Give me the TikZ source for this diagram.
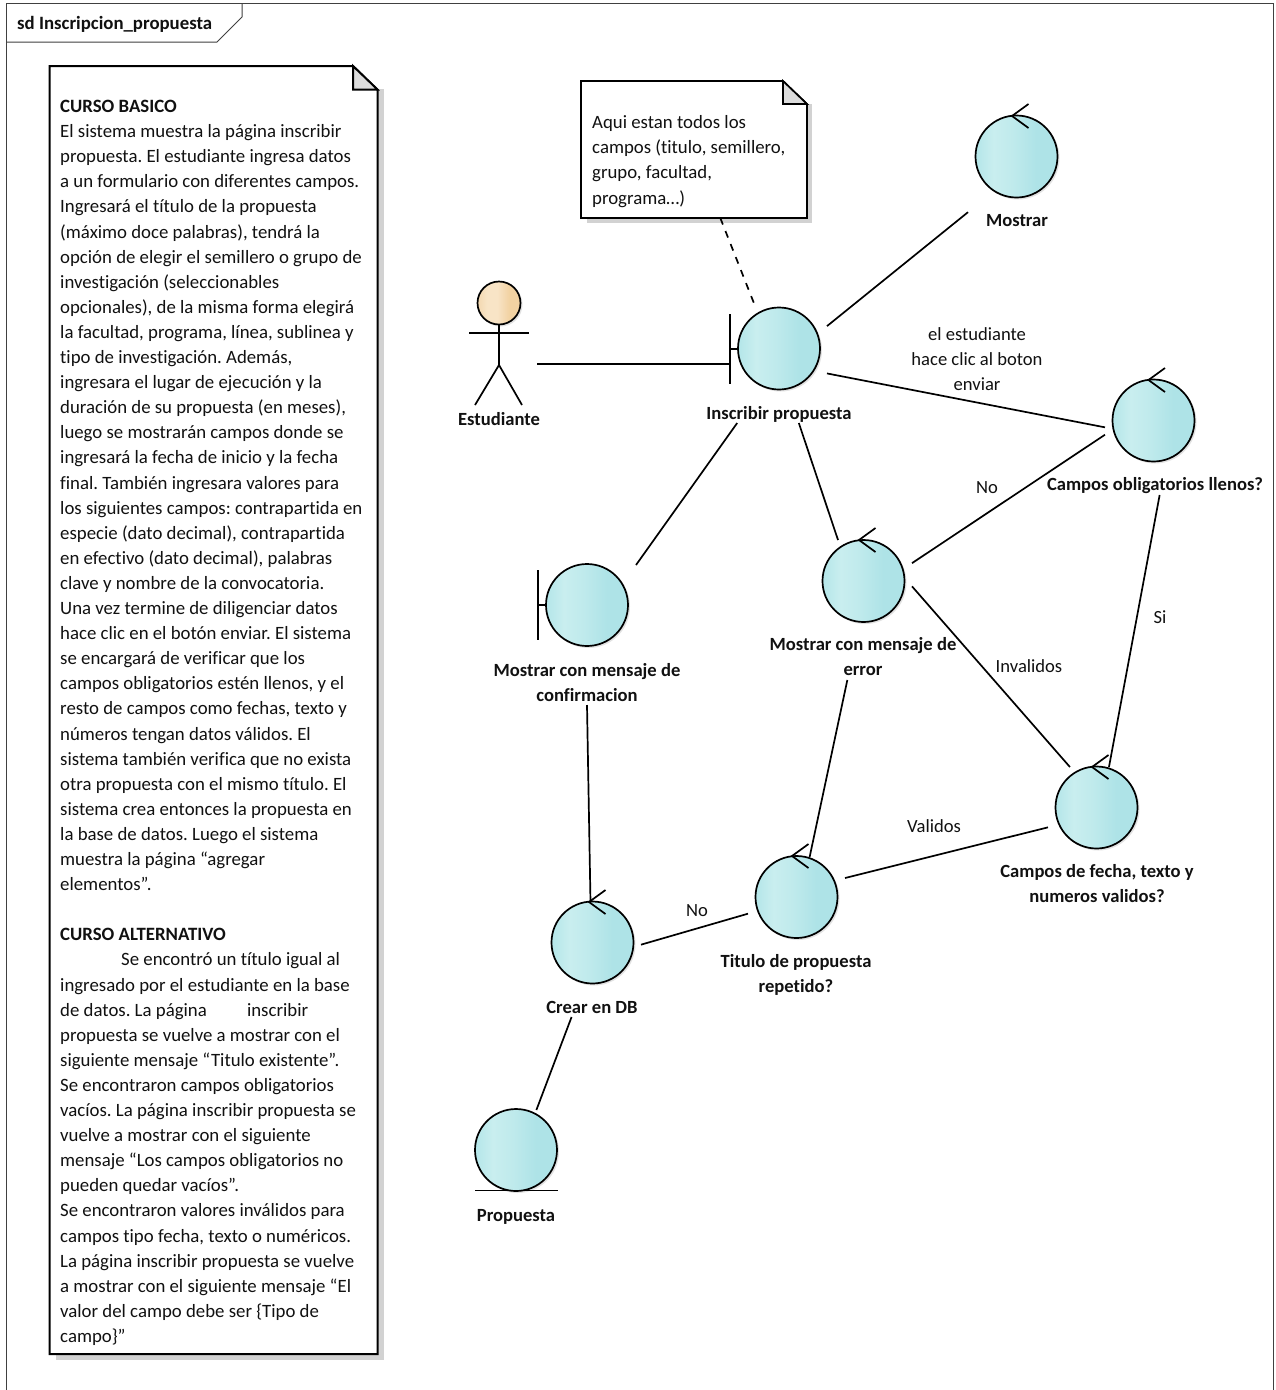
\documentclass[tikz,border=0pt]{standalone}
\usepackage{fontspec}
\setmainfont[Ligatures=NoCommon]{Carlito}
\usetikzlibrary{calc}
\definecolor{ink}{HTML}{111111}
\definecolor{framec}{HTML}{404040}
\definecolor{shadowc}{HTML}{D2D2D2}
\definecolor{ballshc}{HTML}{E2E2E2}
\definecolor{foldc}{HTML}{DCDCDC}
\definecolor{ca}{HTML}{B4E6E9}
\definecolor{cb}{HTML}{C9EEEF}
\definecolor{cc}{HTML}{BFEAEC}
\definecolor{cd}{HTML}{AEE3E7}
\definecolor{ha}{HTML}{F3D8B0}
\definecolor{hb}{HTML}{F8E4C6}
\definecolor{hc}{HTML}{F2D2A2}
\pgfdeclarehorizontalshading{ctrlshade}{100bp}{color(0bp)=(ca);color(25bp)=(ca);color(36bp)=(cb);color(48bp)=(cc);color(62bp)=(cd);color(75bp)=(cd);color(100bp)=(cd)}
\pgfdeclarehorizontalshading{headshade}{100bp}{color(0bp)=(ha);color(25bp)=(ha);color(36bp)=(hb);color(48bp)=(hb);color(62bp)=(hc);color(75bp)=(hc);color(100bp)=(hc)}
\tikzset{
  x=1pt,y=-1pt,
  hit/.style={rectangle,inner sep=0pt,outer sep=0pt,draw=none},
  ball/.style={circle,inner sep=0pt,outer sep=0pt,minimum size=82pt,draw=black,line width=1.7pt,shading=ctrlshade},
  ballshadow/.style={circle,inner sep=0pt,outer sep=0pt,minimum size=83pt,fill=ballshc},
  part/.style={draw=black,line width=1.7pt},
  conn/.style={draw=black,line width=1.7pt},
  notedash/.style={draw=black,line width=1.7pt,dash pattern=on 7pt off 7pt},
  lbl/.style={font=\fontsize{18.6}{25.1}\selectfont\bfseries,text=ink,align=center,inner sep=0pt},
  edgelbl/.style={font=\fontsize{18.6}{25.1}\selectfont,text=ink,align=center,inner sep=0pt},
  notetxt/.style={font=\fontsize{18.8}{25.1}\selectfont\frenchspacing,text=ink,align=left,inner sep=0pt},
  noteline/.style={draw=black,line width=2pt,line join=miter},
  noteshadow/.style={fill=shadowc},
}
\newcommand{\ctrlball}[3]{%
  \node[ballshadow] at ($(#2,#3)+(1.5,1.5)$) {};
  \node[ball] (#1) at (#2,#3) {};
}
\newcommand{\ctrlarrow}[2]{% tip position
  \draw[part,line cap=butt] ($(#1,#2)+(16.5,-12)$) -- (#1,#2) -- ($(#1,#2)+(16.5,12)$);
}
\begin{document}
\begin{tikzpicture}
\useasboundingbox (0,0) rectangle (1276,1390);
\fill[white] (0,0) rectangle (1276,1390);
% frame
\draw[framec,line width=1pt] (6.5,1390) -- (6.5,3.5) -- (1273.5,3.5) -- (1273.5,1390);
\draw[framec,line width=1pt] (6.5,42) -- (217,42) -- (242,17) -- (242,3.5);
\node[lbl,font=\fontsize{18.8}{20}\selectfont\bfseries,anchor=west] (frametitle) at (17,24.5) {sd Inscripcion\_propuesta};
% big note
\fill[noteshadow] (55.5,89) -- (383.5,89) -- (383.5,1360) -- (55.5,1360) -- cycle;
\draw[noteline,fill=white] (49.5,66) -- (353,66) -- (377.5,90) -- (377.5,1354) -- (49.5,1354) -- cycle;
\draw[noteline,fill=foldc] (353,66) -- (353,89.5) -- (377.5,89.5) -- cycle;
\node[notetxt,anchor=north west] (bignote) at (60,100) {%
\textbf{CURSO BASICO}\\
El sistema muestra la página inscribir\\
propuesta. El estudiante ingresa datos\\
a un formulario con diferentes campos.\\
Ingresará el título de la propuesta\\
(máximo doce palabras), tendrá la\\
opción de elegir el semillero o grupo de\\
investigación (seleccionables\\
opcionales), de la misma forma elegirá\\
la facultad, programa, línea, sublinea y\\
tipo de investigación. Además,\\
ingresara el lugar de ejecución y la\\
duración de su propuesta (en meses),\\
luego se mostrarán campos donde se\\
ingresará la fecha de inicio y la fecha\\
final. También ingresara valores para\\
los siguientes campos: contrapartida en\\
especie (dato decimal), contrapartida\\
en efectivo (dato decimal), palabras\\
clave y nombre de la convocatoria.\\
Una vez termine de diligenciar datos\\
hace clic en el botón enviar. El sistema\\
se encargará de verificar que los\\
campos obligatorios estén llenos, y el\\
resto de campos como fechas, texto y\\
números tengan datos válidos. El\\
sistema también verifica que no exista\\
otra propuesta con el mismo título. El\\
sistema crea entonces la propuesta en\\
la base de datos. Luego el sistema\\
muestra la página “agregar\\
elementos”.\\
\mbox{}\\
\textbf{CURSO ALTERNATIVO}\\
\hspace*{61pt}Se encontró un título igual al\\
ingresado por el estudiante en la base\\
de datos. La página \hspace*{36pt}inscribir\\
propuesta se vuelve a mostrar con el\\
siguiente mensaje “Titulo existente”.\\
Se encontraron campos obligatorios\\
vacíos. La página inscribir propuesta se\\
vuelve a mostrar con el siguiente\\
mensaje “Los campos obligatorios no\\
pueden quedar vacíos”.\\
Se encontraron valores inválidos para\\
campos tipo fecha, texto o numéricos.\\
La página inscribir propuesta se vuelve\\
a mostrar con el siguiente mensaje “El\\
valor del campo debe ser \{Tipo de\\
campo\}”};
% small note
\fill[noteshadow] (587,104) -- (812,104) -- (812,223) -- (587,223) -- cycle;
\node[hit,minimum width=226pt,minimum height=137pt] (smallnote) at (694,149.5) {};
\draw[noteline,line width=1.7pt,fill=white] (581,81) -- (783,81) -- (807,104) -- (807,218) -- (581,218) -- cycle;
\draw[noteline,line width=1.7pt,fill=foldc] (783,81) -- (783,104) -- (807,104) -- cycle;
\node[notetxt,anchor=north west] (smalltxt) at (592,115.5) {Aqui estan todos los\\campos (titulo, semillero,\\grupo, facultad,\\programa…)};
% actor
\node[hit,minimum width=76pt,minimum height=100pt] (est) at (499,364) {};
\fill[ballshc] (500.5,304.5) circle (22);
\shade[shading=headshade,draw=black,line width=1.7pt] (499,303) circle (21.5);
\draw[part] (499,324.5) -- (499,365);
\draw[part] (469,333) -- (529,333);
\draw[part] (475,405) -- (499,365) -- (522,405);
\node[lbl] (estl) at (499,419) {Estudiante};
% elements: hit boxes
\node[hit,minimum width=97pt,minimum height=118pt] (ins) at (778.5,364) {};
\node[hit,minimum width=97pt,minimum height=100pt] (mos) at (1016.5,170) {};
\node[hit,minimum width=97pt,minimum height=100pt] (obl) at (1153.5,445) {};
\node[hit,minimum width=97pt,minimum height=140pt] (err) at (863.5,610) {};
\node[hit,minimum width=97pt,minimum height=100pt] (val) at (1096.5,817) {};
\node[hit,minimum width=97pt,minimum height=98pt] (tit) at (796.5,906) {};
\node[hit,minimum width=97pt,minimum height=115pt] (cre) at (592.5,959.5) {};
\node[hit,minimum width=98pt,minimum height=140pt] (con) at (587,635) {};
\node[hit,minimum width=84pt,minimum height=80pt] (pro) at (516,1150) {};
% balls
\ctrlball{insb}{779}{348.5}
\draw[part] (730,314) -- (730,384);
\draw[part] (730,349) -- (738,349);
\ctrlball{mosb}{1016.5}{156.5}
\ctrlarrow{1012}{116}
\ctrlball{oblb}{1153.5}{420.5}
\ctrlarrow{1148.5}{380}
\ctrlball{errb}{863.5}{581}
\ctrlarrow{859}{540}
\ctrlball{valb}{1096.5}{807.5}
\ctrlarrow{1092}{767}
\ctrlball{titb}{796.5}{897}
\ctrlarrow{792}{856}
\ctrlball{creb}{592.5}{942.5}
\ctrlarrow{589}{902}
\ctrlball{conb}{587}{605}
\draw[part] (538,570) -- (538,640);
\draw[part] (538,605) -- (546,605);
\ctrlball{prob}{516}{1150}
\draw[part] (475,1190.5) -- (558,1190.5);
% connectors
\draw[conn] (est.0) -- (ins.180);
\draw[notedash] (smallnote.-69.2) -- (ins.112.6);
\draw[conn] (ins.38.1) -- (mos.-139.1);
\draw[conn] (ins.-11.1) -- (obl.160.7);
\draw[conn] (ins.-71.7) -- (err.110);
\draw[conn] (ins.-125.8) -- (con.55.6);
\draw[conn] (err.44.1) -- (obl.168.35);
\draw[conn] (err.26.3) -- (val.118.8);
\draw[conn] (obl.-83.7) -- (val.76.5);
\draw[conn] (err.-103.3) -- (tit.75.7);
\draw[conn] (tit.30) -- (val.-168.35);
\draw[conn] (con.-90) -- (cre.92.5);
\draw[conn] (cre.17.7) -- (tit.-171.8);
\draw[conn] (cre.-110.5) -- (pro.63.4);
% labels
\node[lbl] (insl) at (779,414.5) {Inscribir propuesta};
\node[lbl] (mosl) at (1017,220.5) {Mostrar};
\node[lbl] (obll) at (1155,485.5) {Campos obligatorios llenos?};
\node[lbl] (errl) at (863,656.5) {Mostrar con mensaje de\\error};
\node[lbl] (vall) at (1097,883.5) {Campos de fecha, texto y\\numeros validos?};
\node[lbl] (titl) at (796,974.5) {Titulo de propuesta\\repetido?};
\node[lbl] (crel) at (592,1007.5) {Crear en DB};
\node[lbl] (conl) at (587,682.5) {Mostrar con mensaje de\\confirmacion};
\node[lbl] (prol) at (516,1216.5) {Propuesta};
% edge labels
\node[edgelbl] (e1) at (977,359) {el estudiante\\hace clic al boton\\enviar};
\node[edgelbl] (e2) at (987,488) {No};
\node[edgelbl] (e3) at (1029,666) {Invalidos};
\node[edgelbl] (e4) at (1160,617) {Si};
\node[edgelbl] (e5) at (934,826) {Validos};
\node[edgelbl] (e6) at (697,911) {No};
\end{tikzpicture}
\end{document}
